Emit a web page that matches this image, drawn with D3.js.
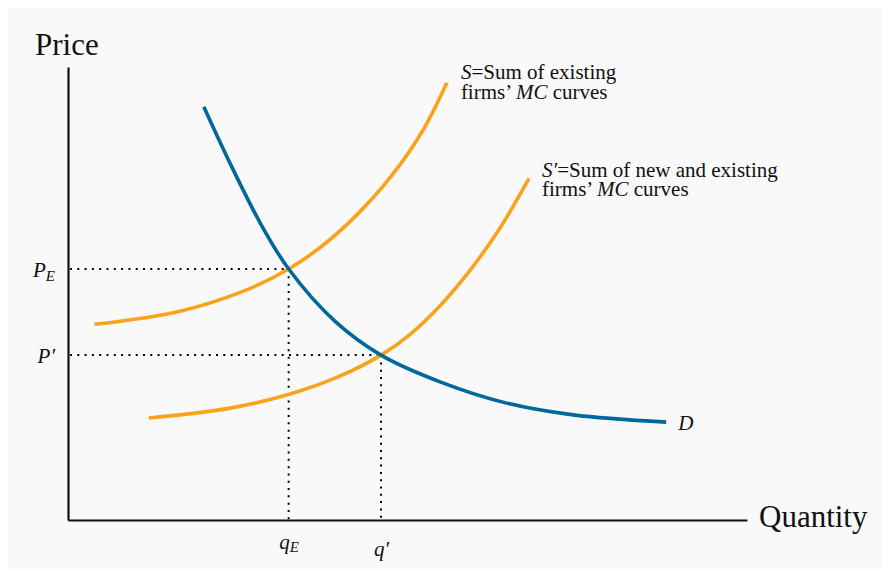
<!DOCTYPE html>
<html>
<head>
<meta charset="utf-8">
<script src="https://cdn.jsdelivr.net/npm/d3@7"></script>
<style>
  body { margin: 0; background: #fff; }
  text { font-family: "Liberation Serif", "Times New Roman", serif; fill: #111; }
</style>
</head>
<body>
<div id="chart"></div>
<script>
/**
 * CONSTANTS AND GLOBALS
 * */
const width = 883,
  height = 569,
  margin = { top: 67, bottom: 49, left: 68, right: 136 };

// curves, [quantity, price] in 0..10 units
const supplyS = [[0.39, 4.32], [1.65, 4.61], [2.63, 5.08], [3.25, 5.54], [3.76, 6.07], [4.25, 6.73], [4.74, 7.55], [5.23, 8.61], [5.58, 9.65]];
const supplyS2 = [[1.19, 2.25], [2.39, 2.47], [3.27, 2.78], [4.01, 3.18], [4.61, 3.64], [5.04, 4.10], [5.48, 4.73], [5.92, 5.51], [6.36, 6.44], [6.79, 7.54]];
const demand = [[2.00, 9.12], [2.34, 8.02], [2.83, 6.56], [3.25, 5.54], [3.93, 4.39], [4.61, 3.64], [5.48, 3.05], [6.46, 2.58], [7.44, 2.32], [8.81, 2.16]];

// equilibrium points: [q, p]
const equilibria = [[3.25, 5.54], [4.61, 3.64]];
const priceLabels = [["P", "E"], ["P", "′"]];
const qtyLabels = [["q", "E"], ["q", "′"]];

const svg = d3.select("#chart")
  .append("svg")
  .attr("width", width)
  .attr("height", height);

svg.append("rect")
  .attr("x", 8).attr("y", 8)
  .attr("width", width - 8).attr("height", height - 8)
  .attr("fill", "#f9f9f9");

const x = d3.scaleLinear().domain([0, 10]).range([margin.left, width - margin.right]);
const y = d3.scaleLinear().domain([0, 10]).range([height - margin.bottom, margin.top]);

// dotted guide lines
equilibria.forEach(([q, p]) => {
  svg.append("line")
    .attr("x1", x(0) + 2).attr("x2", x(q))
    .attr("y1", y(p)).attr("y2", y(p))
    .attr("stroke", "#000").attr("stroke-width", 2)
    .attr("stroke-dasharray", "2,5.3");
  svg.append("line")
    .attr("x1", x(q)).attr("x2", x(q))
    .attr("y1", y(p)).attr("y2", y(0))
    .attr("stroke", "#000").attr("stroke-width", 2)
    .attr("stroke-dasharray", "2,5.3");
});

const line = d3.line()
  .x(d => x(d[0]))
  .y(d => y(d[1]))
  .curve(d3.curveCatmullRom.alpha(0.5));

svg.selectAll(".curve")
  .data([
    { pts: supplyS, color: "#f9a21b" },
    { pts: supplyS2, color: "#f9a21b" },
    { pts: demand, color: "#00689a" },
  ])
  .join("path")
  .attr("class", "curve")
  .attr("d", d => line(d.pts))
  .attr("fill", "none")
  .attr("stroke", d => d.color)
  .attr("stroke-width", 3.6);

// axes
const xAxis = svg.append("g")
  .attr("transform", `translate(0,${y(0)})`)
  .call(d3.axisBottom(x).tickValues(equilibria.map(d => d[0])).tickSize(0).tickPadding(14).tickFormat(""));
const yAxis = svg.append("g")
  .attr("transform", `translate(${x(0)},0)`)
  .call(d3.axisLeft(y).tickValues(equilibria.map(d => d[1])).tickSize(0).tickPadding(13).tickFormat(""));

[xAxis, yAxis].forEach(g => {
  g.select(".domain").attr("stroke", "#111").attr("stroke-width", 2.2);
});

yAxis.selectAll(".tick text")
  .each(function (d, i) {
    const t = d3.select(this)
      .attr("font-size", 21)
      .attr("font-style", "italic")
      .attr("dy", "0.35em");
    t.append("tspan").text(priceLabels[i][0]);
    if (i === 0) {
      t.append("tspan").attr("font-size", 15).attr("dy", 4).text(priceLabels[i][1]);
    } else {
      t.append("tspan").text(priceLabels[i][1]);
    }
  });

xAxis.selectAll(".tick text")
  .each(function (d, i) {
    const t = d3.select(this)
      .attr("font-size", 21)
      .attr("font-style", "italic")
      .attr("dy", i === 0 ? "0.7em" : "1.05em");
    t.append("tspan").text(qtyLabels[i][0]);
    if (i === 0) {
      t.append("tspan").attr("font-size", 15).attr("dy", 3).text(qtyLabels[i][1]);
    } else {
      t.append("tspan").text(qtyLabels[i][1]);
    }
  });

// axis titles
svg.append("text")
  .attr("x", 35).attr("y", 55)
  .attr("font-size", 31)
  .text("Price");
svg.append("text")
  .attr("x", 759).attr("y", 527)
  .attr("font-size", 31)
  .text("Quantity");

// curve labels
const lastS = supplyS[supplyS.length - 1];
const lastS2 = supplyS2[supplyS2.length - 1];
const lastD = demand[demand.length - 1];

const sLabel = svg.append("text")
  .attr("x", x(lastS[0]) + 14).attr("y", y(lastS[1]) - 4)
  .attr("font-size", 21);
sLabel.append("tspan").attr("font-style", "italic").text("S");
sLabel.append("tspan").text("=Sum of existing");
const sLabel2 = svg.append("text")
  .attr("x", x(lastS[0]) + 14).attr("y", y(lastS[1]) + 16)
  .attr("font-size", 21);
sLabel2.append("tspan").text("firms’ ");
sLabel2.append("tspan").attr("font-style", "italic").text("MC");
sLabel2.append("tspan").text(" curves");

const s2Label = svg.append("text")
  .attr("x", x(lastS2[0]) + 13).attr("y", y(lastS2[1]) - 1)
  .attr("font-size", 21);
s2Label.append("tspan").attr("font-style", "italic").text("S′");
s2Label.append("tspan").text("=Sum of new and existing");
const s2Label2 = svg.append("text")
  .attr("x", x(lastS2[0]) + 13).attr("y", y(lastS2[1]) + 18)
  .attr("font-size", 21);
s2Label2.append("tspan").text("firms’ ");
s2Label2.append("tspan").attr("font-style", "italic").text("MC");
s2Label2.append("tspan").text(" curves");

svg.append("text")
  .attr("x", x(lastD[0]) + 12).attr("y", y(lastD[1]) + 8)
  .attr("font-size", 21)
  .attr("font-style", "italic")
  .text("D");
</script>
</body>
</html>
